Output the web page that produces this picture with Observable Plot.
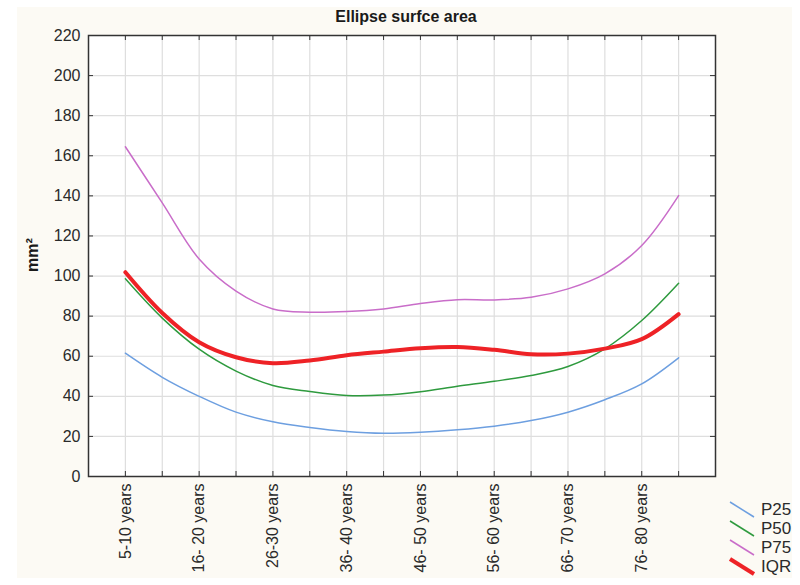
<!DOCTYPE html>
<html><head><meta charset="utf-8">
<script src="https://cdn.jsdelivr.net/npm/d3@7"></script>
<script src="https://cdn.jsdelivr.net/npm/@observablehq/plot@0.6"></script>
<style>
html,body{margin:0;padding:0;background:#fff;}
#wrap{position:relative;width:800px;height:585px;overflow:hidden;font-family:"Liberation Sans",Arial,sans-serif;}
#bg{position:absolute;left:17px;top:7px;width:775px;height:571px;background:#fcfaf4;}
#chart{position:absolute;left:0;top:0;}
#overlay{position:absolute;left:0;top:0;pointer-events:none;}
</style></head><body>
<div id="wrap"><div id="bg"></div><div id="chart"></div><svg id="overlay" width="800" height="585"></svg></div>
<script>
const categories = ["5-10 years","11-15 years","16- 20 years","21-25 years","26-30 years","31-35 years","36- 40 years","41-45 years","46- 50 years","51-55 years","56- 60 years","61-65 years","66- 70 years","71-75 years","76- 80 years","81-85 years"];
const labeledCategories = ["5-10 years","16- 20 years","26-30 years","36- 40 years","46- 50 years","56- 60 years","66- 70 years","76- 80 years"];
const yTicks = [0,20,40,60,80,100,120,140,160,180,200,220];
const p25 = [61.5,49.5,40.0,32.1,27.3,24.5,22.5,21.6,22.1,23.3,25.1,27.9,32.1,38.3,46.2,59.2];
const p50 = [98.6,79.0,63.5,52.6,45.4,42.4,40.4,40.6,42.3,45.0,47.5,50.4,54.9,63.7,77.8,96.4];
const p75 = [164.5,136.5,108.5,92.5,83.6,82.0,82.3,83.6,86.3,88.2,88.1,89.4,93.6,101.1,115.2,140.1];
const iqr = [101.9,81.6,67.0,59.5,56.5,57.9,60.5,62.3,64.0,64.6,63.2,61.0,61.3,63.8,68.5,81.0];
const seriesNames = ["P25","P50","P75","IQR"];
const seriesColors = ["#6d9fe0","#2e9a3e","#c96dc9","#ee2226"];
const seriesValues = [p25,p50,p75,iqr];
const seriesWidths = [1.5,1.5,1.5,4];
const title = "Ellipse surfce area";
const yLabel = "mm²";

const tables = seriesValues.map(vals => vals.map((v,i) => ({category: categories[i], value: v})));

const plotH = 585 - 35 - 109, plotW = 800 - 88 - 85;
const gridColor = "#dedede", axisColor = "#333";

const chart = Plot.plot({
  width: 800, height: 585,
  marginLeft: 88, marginRight: 85, marginTop: 35, marginBottom: 109,
  style: {background: "transparent", fontFamily: "Liberation Sans, Arial, sans-serif", fontSize: "16px", color: "#2a2a2a"},
  x: {type: "point", domain: categories, padding: 1, round: false, label: null},
  y: {domain: [0, 220], label: null},
  marks: [
    Plot.frame({fill: "white"}),
    Plot.gridX(categories, {stroke: gridColor, strokeOpacity: 1, strokeWidth: 1.2}),
    Plot.gridY(yTicks, {stroke: gridColor, strokeOpacity: 1, strokeWidth: 1.2}),
    Plot.tickX(categories, {insetTop: plotH - 5, stroke: axisColor}),
    Plot.tickX(categories, {insetBottom: plotH - 5, stroke: axisColor}),
    Plot.tickY(yTicks, {insetLeft: plotW - 5, stroke: axisColor}),
    Plot.tickY(yTicks, {insetRight: plotW - 5, stroke: axisColor}),
    Plot.axisY(yTicks, {tickSize: 0, tickPadding: 8, fontSize: 16}),
    Plot.axisX(labeledCategories, {tickSize: 0, tickRotate: -90, tickPadding: 7, fontSize: 16}),
    ...tables.map((t, k) => Plot.line(t, {x: "category", y: "value", stroke: seriesColors[k], strokeWidth: seriesWidths[k], curve: "catmull-rom"})),
    Plot.frame({stroke: axisColor, strokeWidth: 1.5})
  ]
});
document.getElementById("chart").appendChild(chart);

const ov = d3.select("#overlay");
ov.append("text").attr("x", 406).attr("y", 22).attr("text-anchor", "middle")
  .attr("font-family", "Liberation Sans, Arial, sans-serif").attr("font-size", 16).attr("font-weight", "bold")
  .attr("fill", "#1a1a1a").text(title);
ov.append("text").attr("transform", "translate(38,255) rotate(-90)").attr("text-anchor", "middle")
  .attr("font-family", "Liberation Sans, Arial, sans-serif").attr("font-size", 16).attr("font-weight", "bold")
  .attr("fill", "#1a1a1a").text(yLabel);
const lg = ov.append("g").attr("font-family", "Liberation Sans, Arial, sans-serif").attr("font-size", 17).attr("fill", "#2a2a2a");
seriesNames.forEach((name, i) => {
  const y = 502 + 19 * i;
  lg.append("line").attr("x1", 730).attr("y1", y).attr("x2", 754).attr("y2", y + 15)
    .attr("stroke", seriesColors[i]).attr("stroke-width", seriesWidths[i]);
  lg.append("text").attr("x", 761).attr("y", y + 13).text(name);
});
</script>
</body></html>
